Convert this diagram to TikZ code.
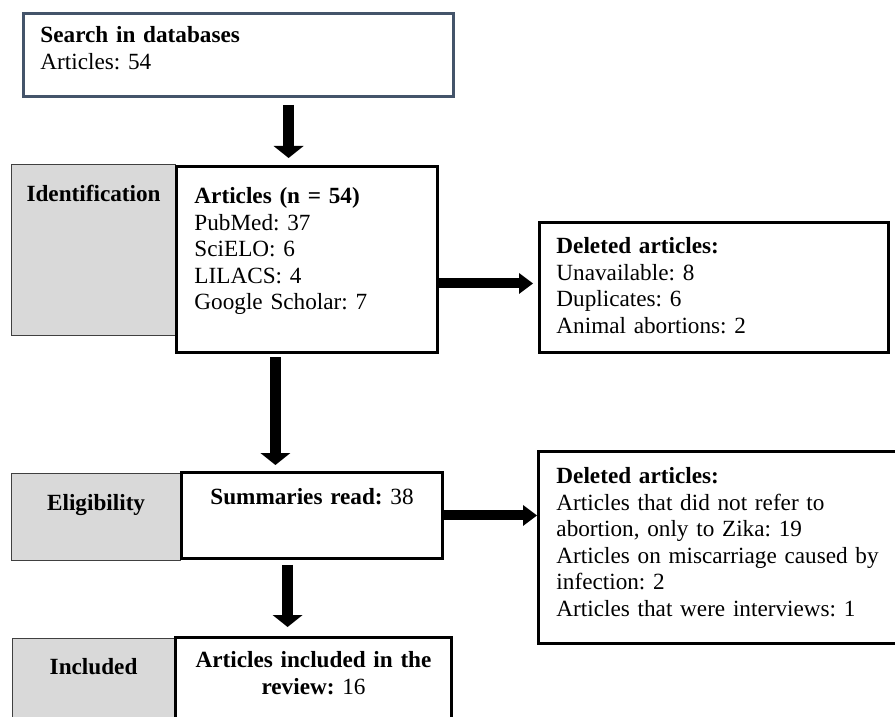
\documentclass[tikz,border=0pt]{standalone}
\usepackage{fontspec}
\setmainfont{Liberation Serif}
\usetikzlibrary{arrows.meta,calc}
\definecolor{slate}{HTML}{44546A}
\definecolor{stagegray}{HTML}{D9D9D9}
\frenchspacing
\tikzstyle{box} = [draw, line width=2.1pt, rectangle, anchor=north west, inner ysep=0pt]
\tikzstyle{stage} = [draw=black!75, line width=0.8pt, fill=stagegray, rectangle, anchor=north west, inner sep=0pt, align=center]
\tikzstyle{varrow} = [line width=0.275cm, -{Triangle[width=0.75cm,length=0.3cm,line width=0pt]}]
\tikzstyle{harrow} = [line width=0.25cm, -{Triangle[width=0.525cm,length=0.35cm,line width=0pt]}]

\begin{document}
\begin{tikzpicture}[x=0.025cm, y=-0.025cm, font=\fontsize{16.5}{18.9}\selectfont]

    \useasboundingbox (0,0) rectangle (895,717);
    \clip (0,0) rectangle (895,717);

    \node[box, draw=slate, inner xsep=0.425cm, text width=9.9cm, align=left, text height=0.725cm, text depth=1.35cm] (search) at (22,12) {\textbf{Search in databases}\\Articles: 54};

    \node[stage, text width=4.1cm,   text height=0.925cm, text depth=3.35cm] (ident) at (11,164) {\textbf{Identification}};
    \node[box, inner xsep=0.45cm, text width=5.625cm, align=left, text height=0.925cm, text depth=3.725cm] (articles) at (175,165) {\textbf{Articles (n = 54)}\\PubMed: 37\\SciELO: 6\\LILACS: 4\\Google Scholar: 7};
    \node[box, inner xsep=0.425cm, text width=7.875cm, align=left, text height=0.775cm, text depth=2.475cm] (del1) at (538,221) {\textbf{Deleted articles:}\\Unavailable: 8\\Duplicates: 6\\Animal abortions: 2};

    \node[stage, text width=4.225cm, text height=0.925cm, text depth=1.25cm] (elig) at (11,473) {\textbf{Eligibility}};
    \node[box, inner xsep=0pt, text width=6.525cm, align=center, text height=0.8cm, text depth=1.35cm] (summ) at (180,471) {\textbf{Summaries read:} 38};
    \node[box, inner xsep=0.45cm, text width=8.3cm, align=left, text height=0.8cm, text depth=4cm] (del2) at (537,450) {\textbf{Deleted articles:}\\Articles that did not refer to\\abortion, only to Zika: 19\\Articles on miscarriage caused by\\infection: 2\\Articles that were interviews: 1};

    \node[stage, text width=4.05cm,  text height=0.9cm, text depth=1.65cm] (incl) at (12,638) {\textbf{Included}};
    \node[box, inner xsep=0pt, text width=6.9cm, align=center, text height=0.75cm, text depth=1.85cm] (final) at (174,636) {\textbf{Articles included in the}\\\textbf{review:} 16};

    \draw[varrow, shorten <=0.175cm, shorten >=0.175cm] ([xshift=-0.46cm]articles.north |- search.south) -- ([xshift=-0.46cm]articles.north);
    \draw[varrow, shorten <=0.075cm, shorten >=0.15cm]  ([xshift=-0.79cm]articles.south) -- ([xshift=-0.79cm]articles.south |- summ.north);
    \draw[varrow, shorten <=0.125cm, shorten >=0.225cm] ([xshift=-0.61cm]summ.south) -- ([xshift=-0.61cm]summ.south |- final.north);
    \draw[harrow, shorten >=0.125cm] ([yshift=0.1cm]del1.west -| articles.east) -- ([yshift=0.1cm]del1.west);
    \draw[harrow] (summ.east) -- (summ.east -| del2.west);

\end{tikzpicture}
\end{document}
